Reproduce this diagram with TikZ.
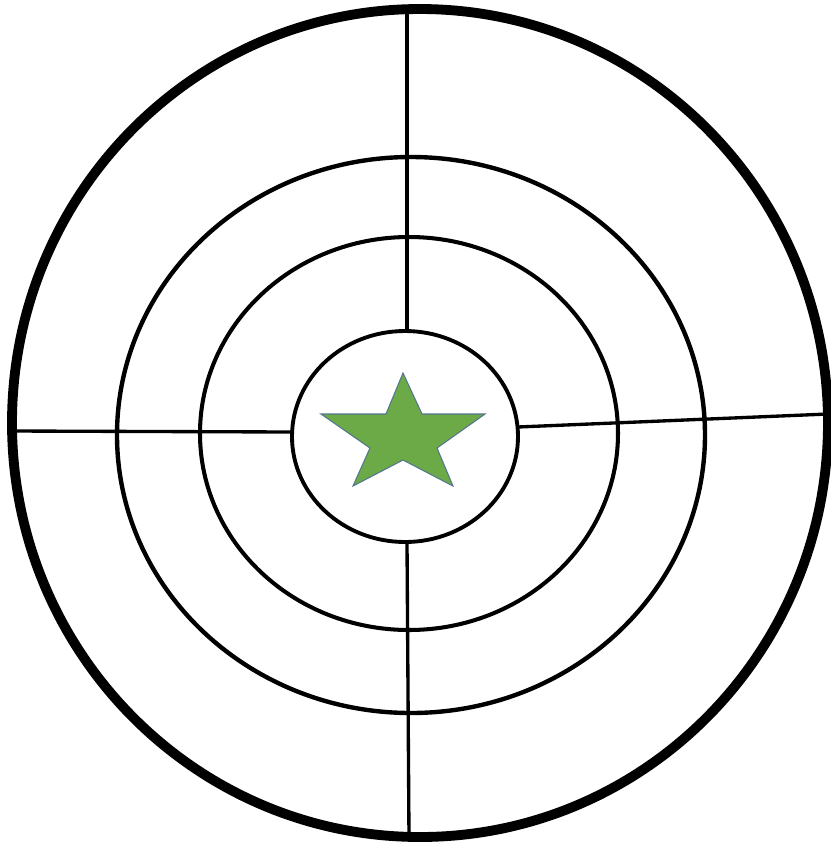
\documentclass[tikz,border=0pt]{standalone}
\usepackage{tikz}
\usepackage{xcolor}
\definecolor{stargreen}{RGB}{108,170,72}
\definecolor{staredge}{RGB}{82,118,140}

\begin{document}
\begin{tikzpicture}[x=0.02cm, y=-0.02cm]
  \useasboundingbox (0,0) rectangle (831,850);
  % rings
  \draw[line width=5.6pt] (420,423) ellipse (408 and 414);
  \draw[line width=2.5pt] (411,435) ellipse (294 and 278);
  \draw[line width=2.3pt] (409,433.5) ellipse (209 and 196.5);
  \draw[line width=2.2pt] (405,436.5) ellipse (113 and 105.5);
  % cross lines
  \draw[line width=1.9pt] (407,10) -- (407,331);
  \draw[line width=1.9pt] (407,542) -- (409,837);
  \draw[line width=1.9pt] (12,431) -- (292,432);
  \draw[line width=1.9pt] (518,427) -- (828,414);
  % star
  \filldraw[fill=stargreen, draw=staredge, line width=0.6pt]
    (403,373) -- (422,414) -- (485,414) -- (437,448) -- (453,486)
    -- (403,460) -- (353,486) -- (370,448) -- (321,414) -- (386,414) -- cycle;
\end{tikzpicture}
\end{document}
